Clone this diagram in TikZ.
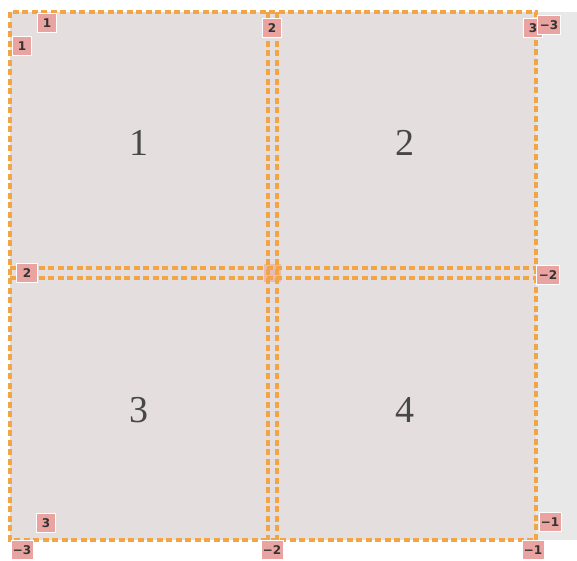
\documentclass[tikz,border=0pt]{standalone}
\usepackage{fontspec}
\setmainfont{Liberation Serif}
\newfontfamily\lblfont{DejaVu Sans}
\definecolor{cellgray}{HTML}{E4DFDE}
\definecolor{sidegray}{HTML}{E9E8E8}
\definecolor{gridorange}{HTML}{F2A544}
\definecolor{lblpink}{HTML}{E9A3A0}
\definecolor{txtdark}{HTML}{333333}
\tikzset{
  gline/.style={draw=gridorange, line width=3.6pt, dash pattern=on 6pt off 3.5pt},
  lbl/.style={fill=lblpink, draw=white, line width=0.8pt, inner sep=0pt, minimum width=19pt, minimum height=19pt, font=\lblfont\bfseries\fontsize{12}{12}\selectfont, text=txtdark},
  big/.style={font=\fontsize{38}{38}\selectfont, text=txtdark!90}
}
\begin{document}
\begin{tikzpicture}[x=1pt,y=-1pt]
\useasboundingbox (0,0) rectangle (577,560);
\fill[white] (0,0) rectangle (577,560);
\fill[sidegray] (536,12) rectangle (577,540);
\fill[cellgray] (10,12) rectangle (536,540);
\fill[lblpink!60!cellgray] (264,264) rectangle (281,282);
% grid lines
\draw[gline] (10,12) rectangle (536,540);
\draw[gline, line width=3.4pt] (268,12) -- (268,540);
\draw[gline, line width=3.4pt] (277,12) -- (277,540);
\draw[gline, line width=3.4pt] (10,268) -- (536,268);
\draw[gline, line width=3.4pt] (10,278) -- (536,278);
% cell numbers
\node[big] (c1) at (139,143) {1};
\node[big] (c2) at (405,143) {2};
\node[big] (c3) at (139,410) {3};
\node[big] (c4) at (405,410) {4};
% line labels
\node[lbl] (t1) at (47,23) {1};
\node[lbl] (l1) at (22,46) {1};
\node[lbl] (t2) at (272,28) {2};
\node[lbl] (t3) at (533,28) {3};
\node[lbl, minimum width=23pt] (tm3) at (549,25) {\textminus3};
\node[lbl, minimum width=21pt] (l2) at (27,273) {2};
\node[lbl, minimum width=23pt] (rm2) at (548,275) {\textminus2};
\node[lbl] (b3) at (46,523) {3};
\node[lbl, minimum width=22pt] (bm3) at (22,550) {\textminus3};
\node[lbl, minimum width=22pt] (bm2) at (272,550) {\textminus2};
\node[lbl, minimum width=22pt] (rm1) at (550,522) {\textminus1};
\node[lbl, minimum width=22pt] (bm1) at (533,550) {\textminus1};
\end{tikzpicture}
\end{document}
